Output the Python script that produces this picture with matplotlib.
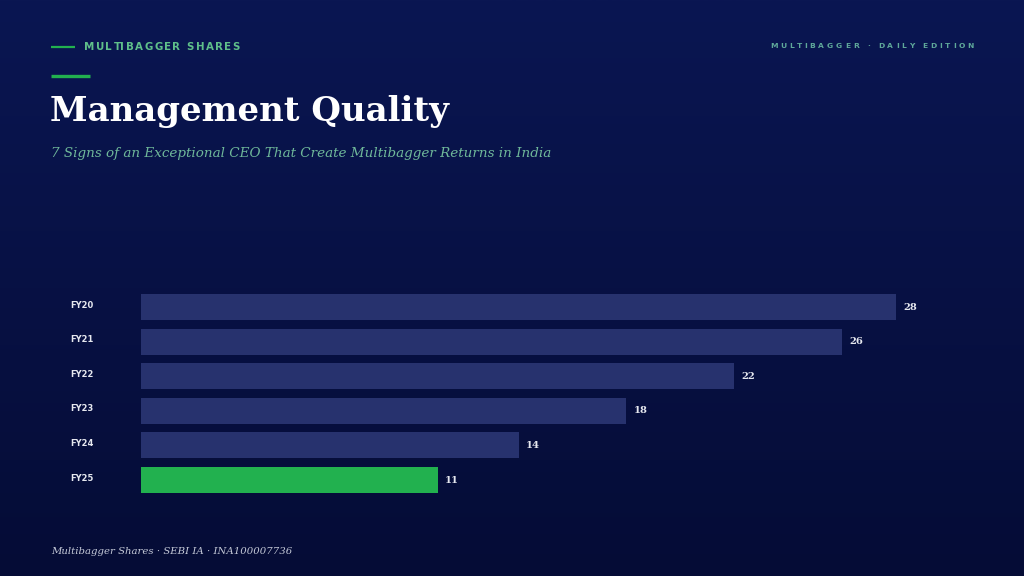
import matplotlib
matplotlib.use("Agg")
import matplotlib.pyplot as plt
import numpy as np
from matplotlib.colors import LinearSegmentedColormap

categories = ["FY20", "FY21", "FY22", "FY23", "FY24", "FY25"]
values = [28, 26, 22, 18, 14, 11]
highlight = "FY25"

W, H = 1024, 576
fig = plt.figure(figsize=(W / 100, H / 100), dpi=100)

# background gradient
bg = fig.add_axes([0, 0, 1, 1])
grad = np.linspace(0, 1, 256).reshape(-1, 1)
cmap = LinearSegmentedColormap.from_list("bg", ["#0a1652", "#050c36"])
bg.imshow(grad, aspect="auto", cmap=cmap, extent=[0, W, H, 0])
bg.set_xlim(0, W)
bg.set_ylim(H, 0)
bg.axis("off")

fig.canvas.draw()
renderer = fig.canvas.get_renderer()


def text_width(s, **kw):
    t = bg.text(0, 0, s.replace(" ", "\u00a0") + "|", **kw)
    w = t.get_window_extent(renderer).width
    t.remove()
    t = bg.text(0, 0, "|", **kw)
    w -= t.get_window_extent(renderer).width
    t.remove()
    return w


def spaced(x0, x1, y, s, **kw):
    # place characters so the string spans x0..x1 with even tracking
    prefix = [text_width(s[:i], **kw) if i else 0.0 for i in range(len(s))]
    total = text_width(s, **kw)
    spacing = (x1 - x0 - total) / (len(s) - 1)
    for i, ch in enumerate(s):
        if ch == " ":
            continue
        bg.text(x0 + prefix[i] + i * spacing, y, ch, va="center", ha="left", **kw)

# header
bg.plot([51, 75], [47, 47], color="#22b14f", lw=1.6, solid_capstyle="butt")
spaced(84, 240, 47, "MULTIBAGGER SHARES", color="#5fbf8a",
       fontsize=7.4, fontweight="bold", family="DejaVu Sans")
bg.plot([51, 90], [76, 76], color="#22b14f", lw=2.4, solid_capstyle="butt")

# right header
spaced(770, 974, 46, "MULTIBAGGER · DAILY EDITION", color="#5fa89a",
       fontsize=5.4, fontweight="bold", family="DejaVu Sans")

bg.text(50, 111, "Management Quality", color="#ffffff", fontsize=24.5,
        fontweight="bold", family="DejaVu Serif", va="center", ha="left")
bg.text(51, 153, "7 Signs of an Exceptional CEO That Create Multibagger Returns in India",
        color="#6fb89a", fontsize=9.7, style="italic", family="DejaVu Serif",
        va="center", ha="left")
bg.text(51, 551, "Multibagger Shares · SEBI IA · INA100007736", color="#c5cad8",
        fontsize=7.3, style="italic", family="DejaVu Serif", va="center", ha="left")

# bar chart axes
px_per_unit = (896 - 141) / 28.0
ax_left, ax_right = 141, 960
step = 34.6
top = 307 - step / 2
bottom = 480 + step / 2
ax = fig.add_axes([ax_left / W, 1 - bottom / H, (ax_right - ax_left) / W, (bottom - top) / H])
ax.set_facecolor("none")
ypos = np.arange(len(categories))
colors = ["#22b14f" if c == highlight else "#27326e" for c in categories]
ax.barh(ypos, values, height=0.75, color=colors)
ax.set_xlim(0, (ax_right - ax_left) / px_per_unit)
ax.set_ylim(len(categories) - 0.5, -0.5)
for s in ax.spines.values():
    s.set_visible(False)
ax.set_xticks([])
ax.set_yticks([])
for y, v in zip(ypos, values):
    ax.annotate(str(v), (v, y), xytext=(7, 0), textcoords="offset pixels",
                va="center", ha="left", color="#e6e8ef", fontsize=7.2,
                fontweight="bold", family="DejaVu Serif")
    ax.annotate(categories[y], (0, y), xycoords=("axes fraction", "data"),
                xytext=(70 - ax_left, 2), textcoords="offset pixels",
                va="center", ha="left", color="#e6e8ef", fontsize=6.0,
                fontweight="bold", family="DejaVu Sans")

fig.savefig("out.png", dpi=100)
